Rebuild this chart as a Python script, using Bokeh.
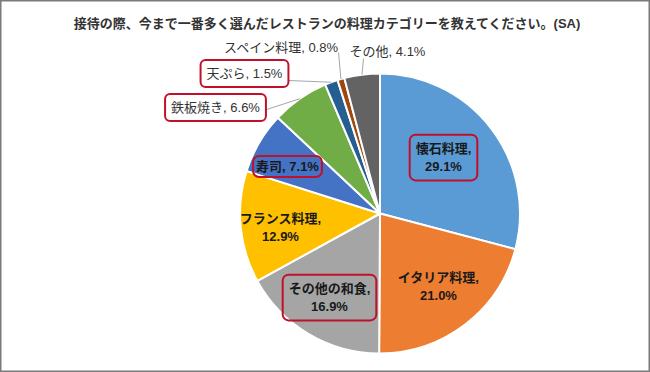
import math
from bokeh.plotting import figure
from bokeh.models import Range1d, Label, ColumnDataSource
from bokeh.embed import file_html
from bokeh.resources import INLINE

title_text = "接待の際、今まで一番多く選んだレストランの料理カテゴリーを教えてください。(SA)"
categories = ["懐石料理", "イタリア料理", "その他の和食", "フランス料理", "寿司",
              "鉄板焼き", "天ぷら", "スペイン料理", "その他"]
values = [29.1, 21.0, 16.9, 12.9, 7.1, 6.6, 1.5, 0.8, 4.1]
colors = ["#5B9BD5", "#ED7D31", "#A5A5A5", "#FFC000", "#4472C4",
          "#70AD47", "#255E91", "#9E480E", "#636363"]

# layout (reference pixel coordinates; y is negated for data space)
CX, CY, R = 379.5, 213, 140
inside = {0: (443, 157, True), 1: (438, 286, False), 2: (329, 297, True),
          3: (280, 227, False), 4: (287, 166, True)}
outside = {5: (215, 107, True, (263, 110)), 6: (244, 73, True, (288, 80)),
           7: (281, 47, False, (338, 52)), 8: (387, 51, False, (363, 58))}

FONT = "Liberation Sans, Noto Sans CJK JP"

p = figure(width=650, height=372, output_backend="svg", toolbar_location=None,
           x_range=Range1d(0, 650), y_range=Range1d(-372, 0), min_border=0)
p.axis.visible = False
p.grid.visible = False
p.outline_line_color = "#7a7a7a"
p.outline_line_width = 2
p.background_fill_color = "white"

total = sum(values)
starts, ends, cum = [], [], 0.0
for v in values:
    starts.append(math.pi / 2 - 2 * math.pi * cum / total)
    cum += v
    ends.append(math.pi / 2 - 2 * math.pi * cum / total)

src = ColumnDataSource(dict(x=[CX] * len(values), y=[-CY] * len(values),
                            s=starts, e=ends, c=colors))
p.wedge(x="x", y="y", radius=R, start_angle="s", end_angle="e", direction="clock",
        fill_color="c", line_color="white", line_width=2, source=src)

# leader lines for outside labels
for i, (lx, ly, boxed, (ex, ey)) in outside.items():
    mid = (starts[i] + ends[i]) / 2
    px = CX + R * math.cos(mid)
    py = -CY + R * math.sin(mid)
    p.line([ex, px], [-ey, py], line_color="#A6A6A6", line_width=1)

for i, (lx, ly, boxed) in inside.items():
    txt = f"{categories[i]},\n{values[i]:.1f}%" if i != 4 else f"{categories[i]}, {values[i]:.1f}%"
    kw = {}
    if boxed:
        kw = dict(border_line_color="#C0102A", border_line_width=2, border_radius=6,
                  padding=6 if i != 4 else 3)
    p.add_layout(Label(x=lx, y=-ly, text=txt, text_align="center", text_baseline="middle",
                       text_font=FONT, text_font_size="13px", text_font_style="bold",
                       text_color="#1a1a1a", text_line_height=1.25, **kw))

for i, (lx, ly, boxed, _) in outside.items():
    txt = f"{categories[i]}, {values[i]:.1f}%"
    kw = {}
    if boxed:
        kw = dict(border_line_color="#C0102A", border_line_width=2, border_radius=5,
                  padding=6, background_fill_color="white")
    p.add_layout(Label(x=lx, y=-ly, text=txt, text_align="center", text_baseline="middle",
                       text_font=FONT, text_font_size="13px",
                       text_color="#333333", **kw))

p.add_layout(Label(x=327, y=-23, text=title_text, text_align="center", text_baseline="middle",
                   text_font=FONT, text_font_size="13px", text_font_style="bold",
                   text_color="#333333"))

open("out.html", "w").write(file_html(p, INLINE))
